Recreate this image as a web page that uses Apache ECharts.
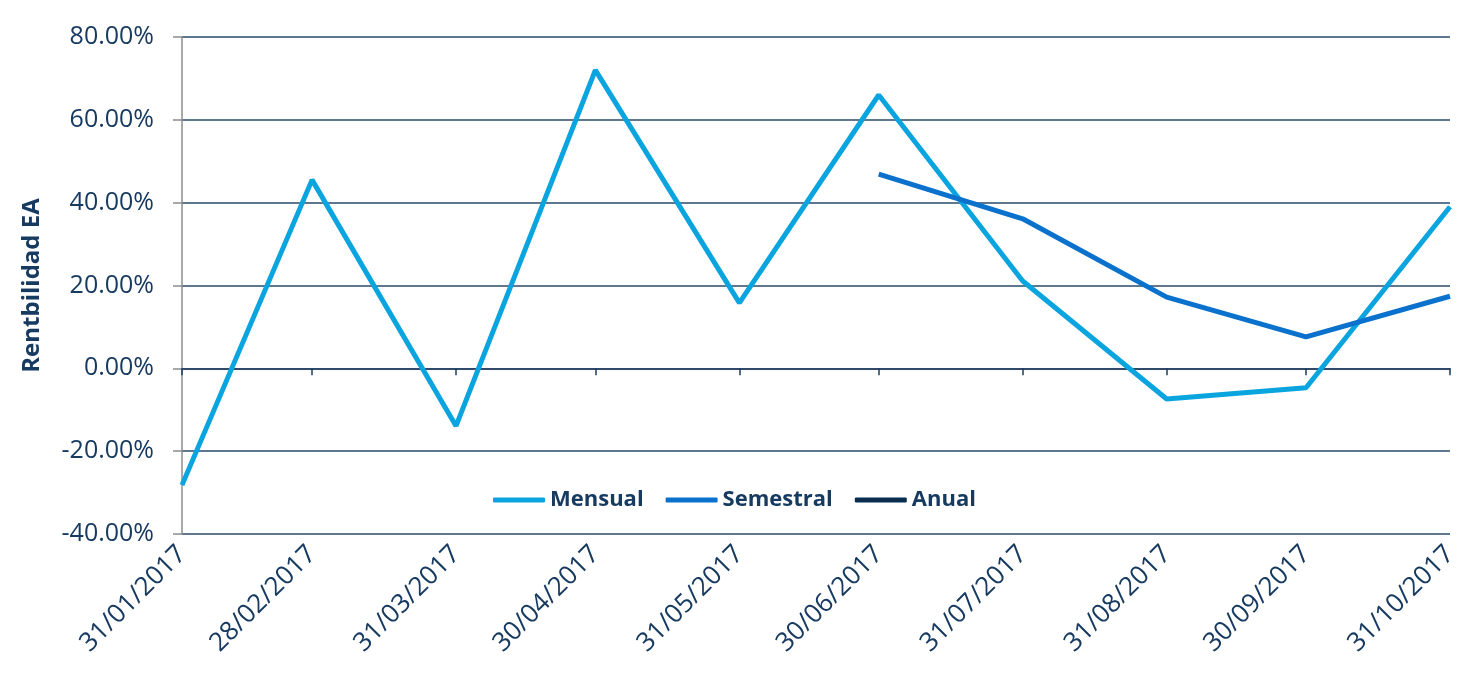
<!DOCTYPE html>
<html>
<head>
<meta charset="utf-8">
<script src="https://cdn.jsdelivr.net/npm/echarts@6/dist/echarts.min.js"></script>
<style>
html,body{margin:0;padding:0;background:#fff;}
#chart{width:1478px;height:675px;}
</style>
</head>
<body>
<div id="chart"></div>
<script>
var dates = ['31/01/2017','28/02/2017','31/03/2017','30/04/2017','31/05/2017','30/06/2017','31/07/2017','31/08/2017','30/09/2017','31/10/2017'];
var mensual = [-28.2, 45.5, -13.9, 72.0, 15.8, 66.0, 21.1, -7.4, -4.7, 39.0];
var semestral = [null, null, null, null, null, 46.9, 36.1, 17.2, 7.6, 17.4];
var anual = [null, null, null, null, null, null, null, null, null, null];

// day offset of each date from the first one (time positions)
function toUTC(s){ var p = s.split('/'); return Date.UTC(+p[2], +p[1] - 1, +p[0]); }
var dayPos = dates.map(function(s){ return Math.round((toUTC(s) - toUTC(dates[0])) / 86400000); });
function pairs(vals){
  var out = [];
  for (var i = 0; i < dates.length; i++) {
    if (vals[i] !== null) out.push([dayPos[i], vals[i]]);
  }
  return out;
}
function labelFor(v){
  var i = dayPos.indexOf(Math.round(v));
  return i >= 0 ? dates[i] : '';
}
var navy = '#173A60';
var font = '"Open Sans", "Noto Sans", sans-serif';
var chart = echarts.init(document.getElementById('chart'));
chart.setOption({
  animation: false,
  backgroundColor: '#fff',
  grid: { left: 182, right: 28, top: 37, bottom: 141, containLabel: false },
  legend: {
    left: 488, top: 484,
    itemWidth: 52, itemHeight: 5, itemGap: 22,
    icon: 'roundRect',
    textStyle: { color: navy, fontSize: 22, fontWeight: 'bold', fontFamily: font },
    data: ['Mensual', 'Semestral', 'Anual']
  },
  xAxis: [
    {
      type: 'value',
      min: dayPos[0], max: dayPos[dayPos.length - 1],
      position: 'bottom',
      axisLine: { show: false, onZero: false },
      axisTick: { show: false },
      splitLine: { show: false },
      axisLabel: {
        customValues: dayPos,
        rotate: 45,
        margin: 16,
        color: navy,
        fontSize: 26,
        fontFamily: font,
        formatter: function(v){ return labelFor(v); },
        hideOverlap: false
      }
    },
    {
      type: 'value',
      min: dayPos[0], max: dayPos[dayPos.length - 1],
      position: 'bottom',
      axisLine: { show: true, onZero: true, lineStyle: { color: '#1F3D5F', width: 1.5 } },
      axisTick: { show: true, customValues: dayPos, length: 7, lineStyle: { color: '#1F3D5F', width: 1.5 } },
      axisLabel: { show: false },
      splitLine: { show: false }
    }
  ],
  yAxis: {
    type: 'value',
    min: -40, max: 80, interval: 20,
    name: 'Rentbilidad EA',
    nameLocation: 'middle',
    nameGap: 138,
    nameRotate: 90,
    nameTextStyle: { color: navy, fontSize: 24, fontWeight: 'bold', fontFamily: font },
    axisLine: { show: true, onZero: false, lineStyle: { color: '#8C8C8C', width: 1.5 } },
    axisTick: { show: true, length: 9, lineStyle: { color: '#8C8C8C', width: 1.5 } },
    axisLabel: {
      color: navy, fontSize: 25, fontFamily: font, margin: 28,
      formatter: function(v){ return v.toFixed(2) + '%'; }
    },
    splitLine: { show: true, lineStyle: { color: '#2B4A6B', width: 1.5 } }
  },
  series: [
    { name: 'Mensual', type: 'line', xAxisIndex: 0, data: pairs(mensual), showSymbol: false, symbol: 'none',
      lineStyle: { color: '#0AA5DF', width: 5 }, itemStyle: { color: '#0AA5DF' } },
    { name: 'Semestral', type: 'line', xAxisIndex: 0, data: pairs(semestral), showSymbol: false, symbol: 'none',
      lineStyle: { color: '#0A72CC', width: 5 }, itemStyle: { color: '#0A72CC' } },
    { name: 'Anual', type: 'line', xAxisIndex: 0, data: pairs(anual), showSymbol: false, symbol: 'none',
      lineStyle: { color: '#0B2D50', width: 5 }, itemStyle: { color: '#0B2D50' } }
  ]
});
</script>
</body>
</html>
